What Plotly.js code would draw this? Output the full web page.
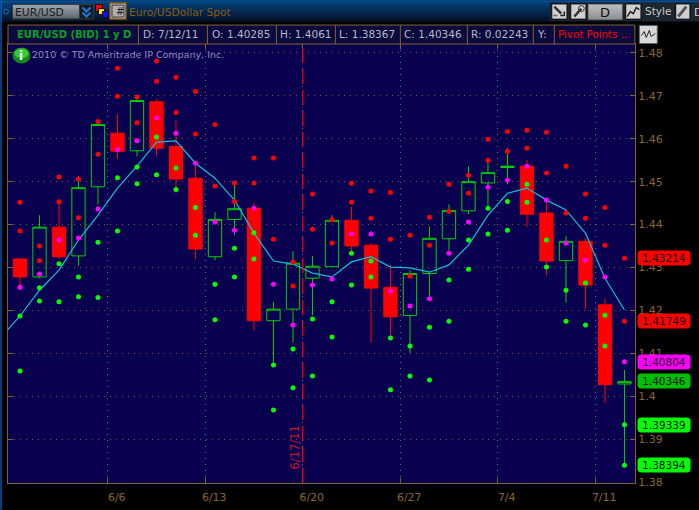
<!DOCTYPE html>
<html><head><meta charset="utf-8">
<script src="https://cdn.plot.ly/plotly-3.0.1.min.js"></script>
<style>html,body{margin:0;padding:0;background:#000;overflow:hidden}#c{width:699px;height:510px}</style>
</head><body><div id="c"></div>
<script>
// Session dates, one per candle
const dates = ['5/30','5/31','6/1','6/2','6/3','6/6','6/7','6/8','6/9','6/10','6/13','6/14','6/15','6/16','6/17','6/20','6/21','6/22','6/23','6/24','6/27','6/28','6/29','6/30','7/1','7/4','7/5','7/6','7/7','7/8','7/11','7/12'];
const open_ = [1.4320,1.4278,1.4394,1.4327,1.4488,1.4613,1.4572,1.4686,1.4582,1.4508,1.4325,1.4412,1.4438,1.4176,1.4203,1.4275,1.4302,1.4410,1.4352,1.4254,1.4188,1.4286,1.4367,1.4432,1.4497,1.4533,1.4536,1.4427,1.4316,1.4361,1.4213,1.40285];
const high = [1.4320,1.4422,1.4453,1.4513,1.4643,1.4657,1.4699,1.4692,1.4643,1.4550,1.4429,1.4496,1.4450,1.4220,1.4338,1.4327,1.4422,1.4441,1.4356,1.4306,1.4294,1.4396,1.4447,1.4536,1.4546,1.4578,1.4551,1.4457,1.4373,1.4368,1.4227,1.4061];
const low = [1.4254,1.4275,1.4320,1.4304,1.4447,1.4553,1.4559,1.4561,1.4474,1.4320,1.4317,1.4375,1.4154,1.4073,1.4125,1.4189,1.4302,1.4334,1.4125,1.4140,1.4101,1.4233,1.4340,1.4424,1.4438,1.4494,1.4395,1.4282,1.4218,1.4203,1.3985,1.38367];
const close_ = [1.4278,1.4394,1.4325,1.4486,1.4633,1.4571,1.4689,1.4578,1.4506,1.4343,1.4412,1.4437,1.4176,1.4203,1.4310,1.4303,1.4410,1.4350,1.4252,1.4185,1.4286,1.4368,1.4433,1.4500,1.4521,1.4536,1.4424,1.4315,1.4361,1.4259,1.4027,1.40346];
// Pivot point study: two resistances, pivot, two supports
const r2 = [1.4452,1.4350,1.4511,1.4506,1.4640,1.4764,1.4697,1.4781,1.4743,1.4710,1.4633,1.4497,1.4555,1.4555,1.4313,1.4471,1.4411,1.4496,1.4478,1.4475,1.4375,1.4417,1.4494,1.4515,1.4599,1.4617,1.4620,1.4615,1.4536,1.4471,1.4440,1.43214];
const r1 = [1.4385,1.4316,1.4453,1.4416,1.4564,1.4699,1.4637,1.4734,1.4661,1.4611,1.4490,1.4454,1.4497,1.4366,1.4257,1.4389,1.4357,1.4452,1.4415,1.4366,1.4280,1.4352,1.4431,1.4473,1.4550,1.4571,1.4578,1.4520,1.4427,1.4415,1.4352,1.41749];
const pivot = [1.4254,1.4285,1.4364,1.4369,1.4436,1.4575,1.4595,1.4648,1.4613,1.4543,1.4406,1.4387,1.4438,1.4261,1.4166,1.4259,1.4273,1.4378,1.4378,1.4245,1.4210,1.4227,1.4333,1.4406,1.4487,1.4503,1.4536,1.4457,1.4357,1.4317,1.4278,1.40804];
const s1 = [1.4187,1.4253,1.4309,1.4278,1.4359,1.4509,1.4534,1.4604,1.4532,1.4440,1.4261,1.4345,1.4381,1.4073,1.4110,1.4180,1.4220,1.4333,1.4315,1.4136,1.4117,1.4161,1.4271,1.4364,1.4438,1.4454,1.4494,1.4364,1.4247,1.4264,1.4189,1.39339];
const s2 = [1.4059,1.4222,1.4220,1.4232,1.4230,1.4385,1.4495,1.4516,1.4482,1.4375,1.4178,1.4278,1.4320,1.3968,1.4020,1.4047,1.4138,1.4259,1.4278,1.4015,1.4047,1.4038,1.4175,1.4296,1.4378,1.4387,1.4452,1.4301,1.4175,1.4166,1.4117,1.38394];
// Moving average: first value belongs to the session before the first candle
const sma = [1.4136,1.4187,1.4247,1.4294,1.4364,1.4422,1.4485,1.4536,1.4592,1.4595,1.4543,1.4508,1.4457,1.4380,1.4315,1.4308,1.4287,1.4278,1.4313,1.4325,1.4301,1.4299,1.4289,1.4306,1.4352,1.4422,1.4473,1.4485,1.4457,1.4434,1.4380,1.4275,1.4201];
const weekTicks = ['6/6','6/13','6/20','6/27','7/4','7/11'];
const priceTicks = [1.38,1.39,1.40,1.41,1.42,1.43,1.44,1.45,1.46,1.47,1.48];

const L=7.5,R=634.7,T=43.5,B=483.3;
const px=x=>(x-L)/(R-L), py=y=>(B-y)/(B-T);
const idx = dates.map((_,i)=>i);
const tickPos = weekTicks.map(d=>dates.indexOf(d)-0.5);
const BROWN='#85602f', TXT='#8a6530', GREY='#b8b8c0';
const font='"DejaVu Sans", Verdana, sans-serif';

const shapes=[], ann=[];
const rect=(x0,y0,x1,y1,fill,line,lw)=>shapes.push({type:'rect',xref:'paper',yref:'paper',x0:px(x0),x1:px(x1),y0:py(y1),y1:py(y0),fillcolor:fill||'rgba(0,0,0,0)',line:{color:line||'rgba(0,0,0,0)',width:line?(lw||1):0}});
const circ=(x0,y0,x1,y1,fill,line)=>shapes.push({type:'circle',xref:'paper',yref:'paper',x0:px(x0),x1:px(x1),y0:py(y1),y1:py(y0),fillcolor:fill||'rgba(0,0,0,0)',line:{color:line||'rgba(0,0,0,0)',width:line?1:0}});
const poly=(pts,color,w,fill)=>{let d=pts.map((p,i)=>(i?'L':'M')+px(p[0])+','+py(p[1])).join(' ');shapes.push({type:'path',xref:'paper',yref:'paper',path:d,fillcolor:fill||'rgba(0,0,0,0)',line:{color:color,width:w||1}});};
const text=(x,y,t,color,size,extra)=>ann.push(Object.assign({xref:'paper',yref:'paper',x:px(x),y:py(y),text:t,showarrow:false,xanchor:'left',yanchor:'middle',borderpad:0,font:{family:font,size:size||11,color:color}},extra||{}));

// header band
for(let r=0;r<21;r++){
  const t=r/20, g=Math.round(92-68*t), b=Math.round(172-120*t);
  rect(0,r,699,r+1,r==0?'#0a84f4':`rgb(6,${g},${b})`);
}
rect(0,0,1,510,'#0a7cf0');
circ(3,8.5,8,13.5,null,'#1a68c0');
// symbol selector
for(let r=0;r<14;r++){const v=Math.round(205-75*r/13);rect(12,4+r,79,5+r,`rgb(${v},${v},${v})`);}
rect(12,4,79,18.5,null,'#3a3a3a');
text(14,11.5,'EUR/USD','#1a1a1a',10.8,{font:{family:font,size:10.8,color:'#1a1a1a'}});
rect(79,4,93,18.5,'#141c2c','#3a3a3a');
poly([[82,7],[86,11],[90,7]],'#1e78d8',2);
poly([[82,12],[86,16],[90,12]],'#1e78d8',2);
// link squares
rect(95,4,102,11,'#ff0000','#111');
rect(98,8,104,14,'#ffe000','#111');
rect(102,11,108,17,'#1010ff','#111');
rect(109.5,2.5,125.5,18.5,'#c8c8c8','#8a5a18',1.5);
rect(111.5,4.5,123.5,16.5,'#b0b0b0','#333');
text(114.5,11,'#','#222',10);
text(127.5,11.5,'Euro/USDollar Spot','#8a5a10',10.7);
// right toolbar
rect(549,2,699,20.5,'#1e2630');
const btn=(x0,x1)=>{rect(x0,3,x1,19,'#3c3c3c','#101418');rect(x0+1,4,x1-1,18,'#d0d0d0');};
btn(551,567);
poly([[554,6],[561,13]],'#333',2.5);poly([[560,15],[564,15],[564,11]],'#222',1.5);poly([[553,15],[557,15]],'#666',1.5);
btn(570,586);
poly([[574,16],[581,8]],'#333',2.5);circ(578,5,584,11,null,'#333');
for(let r=0;r<15;r++){const v=Math.round(240-60*r/14);rect(588,4+r,622,5+r,`rgb(${v},${v},${v})`);}
text(605,11.5,'D','#111',13,{xanchor:'center'});
btn(625,641);
poly([[627,16],[630,11],[633,13],[636,7],[639,9]],'#222',1.5);
text(644,10,'Style','#c8c8c8',10.5);
btn(675,690);
poly([[678,16],[686,6]],'#555',3);
text(693,11.5,'D','#d0d0d0',11);
// info strip
rect(7.5,24.5,634.5,43.5,'#0a0a3e',BROWN);
[138,207,276,335,400,467,533,554].forEach(x=>poly([[x,24.5],[x,43.5]],BROWN,1));
text(15.5,33.5,'EUR/USD (BID) 1 y D','#00a424',10,{font:{family:font,size:10,color:'#00a424',weight:700}});
[[141.5,'D: 7/12/11'],[211,'O: '+open_[31].toFixed(5)],[279,'H: '+high[31].toFixed(4)],[338,'L: '+low[31].toFixed(5)],[403,'C: '+close_[31].toFixed(5)],[470,'R: 0.02243'],[536,'Y:']]
  .forEach(c=>text(c[0],33.5,c[1],GREY,10.5));
text(557,33.5,'Pivot Points ...','#ff0000',10.3);
rect(639,25,657,43,'#d8d8d8','#506070');
poly([[641,35],[644,31],[646,37],[649,30],[651,36],[655,33]],'#222',1);
// watermark + info badge
circ(12,47,30,63,'#0f8a1a');
circ(14,48,28,58,'#3ac83a');
text(21,55.5,'i','#ffffff',12,{xanchor:'center',font:{family:font,size:12,color:'#fff',weight:700}});
text(31,54,'2010 © TD Ameritrade IP Company, Inc.','#8e8ebc',9.5);
// marked date
shapes.push({type:'line',xref:'x',yref:'paper',x0:dates.indexOf('6/20')-0.5,x1:dates.indexOf('6/20')-0.5,y0:0,y1:1,line:{color:'#ff0000',width:1.2,dash:'15px,6px'}});
ann.push({xref:'x',yref:'paper',x:dates.indexOf('6/20')-0.5,xshift:-8,y:py(448),xanchor:'center',yanchor:'middle',text:'6/17/11',textangle:-90,showarrow:false,font:{family:font,size:11.5,color:'#c81428'}});

// price badges for the last session
const last=dates.length-1;
[[r2[last],'#ff0000'],[r1[last],'#ff0000'],[pivot[last],'#ff00ff'],[close_[last],'#00c000'],[s1[last],'#00ff00'],[s2[last],'#00ff00']].forEach(b=>{
  ann.push({xref:'paper',yref:'y',x:px(637),y:b[0],text:b[0].toFixed(5),showarrow:false,xanchor:'left',yanchor:'middle',bgcolor:b[1],width:50,height:12,borderpad:1,align:'center',font:{family:font,size:10.5,color:'#111'}});
});

const dots=(y,c)=>({type:'scatter',mode:'markers',x:idx,y:y,marker:{color:c,size:5},hoverinfo:'skip',cliponaxis:true});
const data=[
 {type:'candlestick',x:idx,open:open_,high:high,low:low,close:close_,whiskerwidth:0,hoverinfo:'skip',
  increasing:{line:{color:'#00d000',width:1},fillcolor:'rgba(0,0,0,0)'},
  decreasing:{line:{color:'#ff0000',width:1},fillcolor:'#ff0000'}},
 {type:'scatter',mode:'lines',x:sma.map((_,i)=>i-1),y:sma,line:{color:'#0cc0d8',width:1.2},hoverinfo:'skip'},
 dots(r2,'#ff0000'),dots(r1,'#ff0000'),dots(pivot,'#ff00ff'),dots(s1,'#00ff00'),dots(s2,'#00ff00')
];
const layout={
 width:699,height:510,showlegend:false,paper_bgcolor:'#000',plot_bgcolor:'#0a0050',boxgap:0.3,boxgroupgap:0.025,
 margin:{l:L,r:699-R,t:T,b:510-B,pad:0},font:{family:font,color:TXT},
 xaxis:{type:'linear',range:[-0.615,31.54],rangeslider:{visible:false},tickmode:'array',tickvals:tickPos,ticktext:weekTicks,
   ticks:'inside',ticklen:5,tickcolor:BROWN,showline:true,linecolor:BROWN,mirror:'ticks',showgrid:true,gridcolor:'#6e6e80',griddash:'1px,5px',gridwidth:1,zeroline:false,
   tickfont:{family:font,size:11,color:TXT},ticklabelshift:9,ticklabelstandoff:4,fixedrange:true},
 yaxis:{side:'right',range:[1.48-(B-52.4)/4300,1.48+(52.4-T)/4300],tickmode:'array',tickvals:priceTicks,ticktext:priceTicks.map(v=>v.toFixed(2).replace(/0$/,'')),
   ticks:'inside',ticklen:5,tickcolor:BROWN,showline:true,linecolor:BROWN,mirror:'ticks',showgrid:true,gridcolor:'#7a5a30',griddash:'1px,5px',gridwidth:1,zeroline:false,
   tickfont:{family:font,size:11,color:TXT},fixedrange:true},
 shapes:shapes,annotations:ann
};
Plotly.newPlot('c',data,layout,{staticPlot:true,displayModeBar:false}).then(gd=>{
  const round=()=>gd.querySelectorAll('.annotation rect.bg').forEach(r=>{const f=r.style.fill||'';if(f&&!/rgba\(0, 0, 0, 0\)/.test(f)){r.setAttribute('rx','4');r.setAttribute('ry','4');}});
  round();gd.on('plotly_afterplot',round);
});
</script></body></html>
